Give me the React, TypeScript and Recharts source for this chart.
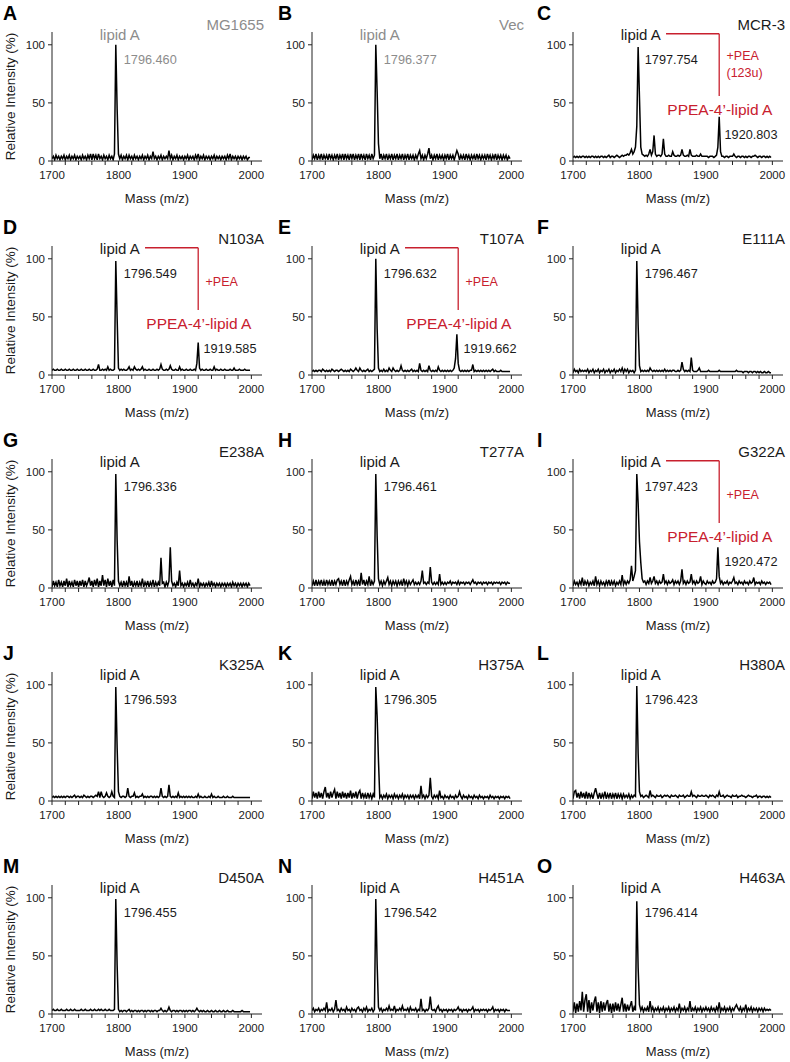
import React from 'react';
import { LineChart, Line, XAxis, YAxis, ReferenceDot, ReferenceLine } from 'recharts';

// m/z grid of the spectra (2 u steps)
const masses = [
  1700, 1702, 1704, 1706, 1708, 1710, 1712, 1714, 1716, 1718,
  1720, 1722, 1724, 1726, 1728, 1730, 1732, 1734, 1736, 1738,
  1740, 1742, 1744, 1746, 1748, 1750, 1752, 1754, 1756, 1758,
  1760, 1762, 1764, 1766, 1768, 1770, 1772, 1774, 1776, 1778,
  1780, 1782, 1784, 1786, 1788, 1790, 1792, 1794, 1796, 1798,
  1800, 1802, 1804, 1806, 1808, 1810, 1812, 1814, 1816, 1818,
  1820, 1822, 1824, 1826, 1828, 1830, 1832, 1834, 1836, 1838,
  1840, 1842, 1844, 1846, 1848, 1850, 1852, 1854, 1856, 1858,
  1860, 1862, 1864, 1866, 1868, 1870, 1872, 1874, 1876, 1878,
  1880, 1882, 1884, 1886, 1888, 1890, 1892, 1894, 1896, 1898,
  1900, 1902, 1904, 1906, 1908, 1910, 1912, 1914, 1916, 1918,
  1920, 1922, 1924, 1926, 1928, 1930, 1932, 1934, 1936, 1938,
  1940, 1942, 1944, 1946, 1948, 1950, 1952, 1954, 1956, 1958,
  1960, 1962, 1964, 1966, 1968, 1970, 1972, 1974, 1976, 1978,
  1980, 1982, 1984, 1986, 1988, 1990, 1992, 1994, 1996, 1998,
];

const massTicks = [1700, 1720, 1740, 1760, 1780, 1800, 1820, 1840, 1860, 1880, 1900, 1920, 1940, 1960, 1980, 2000];
const intensityTicks = [0, 50, 100];

const panelLetters = ['A', 'B', 'C', 'D', 'E', 'F', 'G', 'H', 'I', 'J', 'K', 'L', 'M', 'N', 'O'];
const sampleNames = ['MG1655', 'Vec', 'MCR-3', 'N103A', 'T107A', 'E111A', 'E238A', 'T277A', 'G322A', 'K325A', 'H375A', 'H380A', 'D450A', 'H451A', 'H463A'];
const lipidAMasses = ['1796.460', '1796.377', '1797.754', '1796.549', '1796.632', '1796.467', '1796.336', '1796.461', '1797.423', '1796.593', '1796.305', '1796.423', '1796.455', '1796.542', '1796.414'];
const peaMasses = [null, null, '1920.803', '1919.585', '1919.662', null, null, null, '1920.472', null, null, null, null, null, null];
const peaNotes = ['', '', '(123u)', '', '', '', '', '', '', '', '', '', '', '', ''];
const grayPanels = ['A', 'B'];

// relative intensity (%), one value per mass
const intA = [
  2, 4, 1, 5, 2, 4, 1, 4, 2, 5,
  1, 4, 2, 5, 1, 4, 2, 5, 1, 4,
  2, 4, 1, 5, 2, 4, 1, 5, 2, 6,
  1, 6, 2, 5, 1, 6, 2, 4, 1, 5,
  2, 4, 1, 5, 2, 4, 1, 6, 100, 45,
  6, 2, 5, 1, 4, 2, 5, 1, 5, 2,
  4, 1, 5, 2, 4, 1, 4, 2, 5, 1,
  4, 2, 5, 1, 4, 2, 8, 2, 4, 1,
  4, 2, 5, 1, 4, 2, 4, 2, 9, 2,
  5, 1, 4, 2, 5, 1, 4, 2, 4, 1,
  4, 2, 5, 1, 4, 2, 4, 1, 5, 2,
  6, 1, 4, 2, 5, 1, 4, 2, 4, 1,
  4, 2, 5, 1, 4, 2, 4, 1, 4, 2,
  4, 1, 5, 2, 6, 1, 4, 2, 4, 1,
  4, 2, 4, 1, 4, 2, 4, 1, 3, 3,
];
const intB = [
  1, 5, 2, 6, 1, 5, 2, 6, 1, 5,
  2, 5, 1, 6, 2, 5, 1, 5, 2, 6,
  1, 5, 2, 6, 1, 6, 2, 5, 1, 6,
  2, 6, 1, 5, 2, 6, 1, 6, 2, 5,
  1, 6, 2, 5, 1, 6, 2, 5, 100, 60,
  15, 2, 6, 1, 5, 2, 6, 1, 5, 2,
  6, 1, 5, 2, 6, 1, 5, 2, 6, 1,
  5, 2, 6, 1, 5, 2, 5, 1, 5, 2,
  6, 9, 2, 5, 1, 5, 2, 6, 11, 2,
  5, 1, 5, 2, 6, 1, 5, 2, 5, 1,
  5, 2, 6, 1, 5, 2, 5, 1, 5, 9,
  6, 1, 5, 2, 5, 1, 6, 2, 5, 1,
  5, 2, 5, 1, 6, 2, 5, 1, 5, 2,
  5, 1, 6, 2, 5, 1, 5, 2, 6, 1,
  5, 2, 5, 1, 5, 2, 5, 1, 4, 2,
];
const intC = [
  3, 4, 3, 4, 3, 4, 3, 4, 4, 3,
  4, 3, 4, 3, 4, 4, 3, 4, 3, 4,
  3, 4, 4, 3, 4, 3, 4, 5, 3, 4,
  4, 3, 4, 5, 4, 3, 4, 5, 4, 5,
  5, 6, 5, 7, 10, 6, 8, 12, 30, 98,
  55, 12, 6, 5, 4, 5, 4, 6, 10, 5,
  8, 22, 6, 4, 5, 5, 4, 6, 19, 6,
  4, 4, 5, 4, 4, 8, 5, 4, 4, 5,
  4, 5, 10, 5, 4, 4, 5, 4, 10, 5,
  4, 4, 4, 5, 4, 4, 6, 4, 4, 4,
  4, 4, 3, 4, 4, 4, 3, 4, 5, 12,
  38, 8, 4, 4, 3, 4, 4, 3, 4, 4,
  4, 6, 4, 3, 4, 4, 3, 4, 4, 3,
  4, 3, 4, 4, 3, 4, 4, 5, 4, 3,
  4, 4, 3, 4, 4, 3, 4, 3, 4, 3,
];
const intD = [
  4, 5, 4, 4, 5, 4, 4, 5, 4, 4,
  5, 4, 4, 5, 4, 4, 5, 4, 4, 5,
  4, 4, 5, 4, 4, 5, 4, 4, 5, 4,
  4, 5, 4, 4, 5, 9, 4, 4, 5, 4,
  5, 4, 7, 4, 5, 4, 4, 5, 98, 49,
  6, 4, 5, 4, 5, 4, 4, 5, 7, 4,
  5, 4, 7, 5, 4, 5, 4, 5, 7, 4,
  5, 4, 4, 5, 4, 4, 5, 4, 4, 5,
  4, 5, 9, 5, 4, 4, 5, 4, 5, 8,
  5, 4, 4, 5, 4, 4, 7, 4, 5, 4,
  4, 5, 4, 4, 5, 4, 4, 5, 4, 10,
  28, 6, 4, 5, 4, 4, 5, 4, 4, 5,
  4, 4, 7, 4, 5, 4, 4, 5, 4, 4,
  5, 4, 4, 4, 5, 4, 4, 6, 4, 4,
  4, 5, 4, 4, 4, 5, 4, 4, 4, 4,
];
const intE = [
  3, 4, 3, 4, 3, 4, 4, 3, 5, 4,
  3, 4, 3, 4, 3, 5, 4, 3, 4, 4,
  3, 4, 5, 4, 3, 4, 3, 4, 3, 5,
  4, 3, 4, 6, 4, 3, 6, 4, 3, 4,
  3, 4, 5, 3, 4, 3, 4, 5, 100, 40,
  6, 3, 4, 3, 5, 3, 4, 3, 6, 4,
  3, 6, 4, 3, 4, 3, 4, 8, 4, 3,
  4, 3, 4, 3, 4, 5, 3, 4, 3, 4,
  3, 10, 4, 3, 4, 3, 4, 3, 8, 4,
  3, 4, 3, 4, 3, 7, 4, 3, 4, 3,
  4, 3, 4, 3, 4, 3, 4, 6, 14, 35,
  10, 4, 3, 4, 3, 4, 3, 4, 3, 4,
  4, 9, 3, 4, 3, 4, 3, 4, 3, 4,
  3, 4, 3, 4, 3, 4, 5, 3, 4, 3,
  3, 3, 4, 3, 3, 3, 3, 3, 3, 3,
];
const intF = [
  2, 5, 3, 4, 2, 5, 3, 4, 3, 4,
  3, 5, 2, 4, 3, 5, 2, 4, 3, 5,
  2, 4, 3, 5, 2, 4, 3, 5, 2, 4,
  3, 5, 2, 4, 3, 5, 3, 6, 2, 5,
  3, 5, 2, 4, 3, 4, 2, 4, 98, 43,
  8, 3, 4, 3, 4, 3, 4, 3, 6, 4,
  3, 4, 3, 4, 3, 4, 3, 4, 3, 5,
  3, 4, 3, 4, 3, 4, 4, 3, 3, 4,
  3, 4, 11, 5, 3, 4, 3, 4, 3, 15,
  4, 3, 3, 3, 4, 6, 3, 3, 3, 3,
  3, 3, 4, 3, 3, 3, 3, 3, 3, 3,
  4, 3, 3, 3, 3, 3, 3, 3, 3, 3,
  3, 3, 3, 4, 3, 3, 3, 3, 2, 3,
  3, 3, 2, 3, 3, 2, 3, 3, 2, 3,
  2, 3, 2, 2, 3, 2, 2, 3, 2, 2,
];
const intG = [
  1, 6, 2, 5, 1, 7, 2, 5, 1, 6,
  2, 8, 1, 6, 2, 5, 1, 7, 2, 6,
  1, 6, 2, 7, 1, 6, 2, 5, 9, 2,
  6, 1, 7, 2, 8, 1, 6, 2, 11, 2,
  7, 1, 8, 2, 6, 1, 7, 2, 98, 41,
  6, 2, 5, 1, 6, 2, 5, 1, 10, 2,
  6, 1, 5, 2, 6, 1, 5, 2, 8, 1,
  5, 2, 6, 1, 5, 2, 7, 1, 5, 2,
  5, 2, 26, 4, 5, 1, 5, 2, 6, 35,
  6, 2, 4, 1, 5, 2, 15, 2, 4, 1,
  4, 2, 5, 1, 7, 2, 4, 1, 4, 2,
  8, 1, 4, 2, 4, 1, 4, 2, 5, 1,
  6, 2, 4, 1, 4, 2, 4, 1, 4, 2,
  4, 1, 4, 2, 4, 1, 5, 2, 4, 1,
  4, 2, 4, 1, 4, 2, 4, 1, 4, 2,
];
const intH = [
  2, 6, 2, 7, 2, 6, 3, 7, 2, 6,
  2, 7, 3, 6, 2, 7, 2, 6, 3, 7,
  8, 3, 6, 2, 7, 2, 6, 3, 7, 10,
  3, 6, 2, 7, 3, 6, 2, 13, 3, 7,
  2, 6, 3, 10, 2, 6, 3, 6, 98, 45,
  8, 3, 6, 2, 6, 3, 6, 9, 3, 6,
  2, 6, 3, 6, 2, 6, 3, 6, 2, 8,
  3, 6, 2, 6, 3, 5, 7, 3, 5, 3,
  5, 3, 6, 15, 4, 5, 3, 5, 4, 18,
  5, 3, 5, 3, 5, 3, 12, 3, 5, 3,
  5, 3, 5, 4, 6, 3, 5, 4, 5, 3,
  6, 3, 5, 4, 5, 3, 5, 4, 5, 3,
  5, 7, 4, 5, 3, 5, 4, 5, 3, 5,
  4, 5, 3, 5, 4, 5, 3, 5, 4, 5,
  4, 5, 3, 5, 4, 5, 3, 5, 4, 4,
];
const intI = [
  2, 6, 3, 5, 2, 6, 3, 9, 2, 6,
  3, 6, 2, 5, 3, 6, 2, 10, 3, 6,
  2, 6, 3, 5, 2, 6, 3, 7, 2, 6,
  3, 6, 2, 5, 3, 6, 3, 11, 3, 6,
  3, 6, 4, 7, 19, 6, 10, 15, 98, 73,
  40, 22, 8, 5, 6, 3, 6, 4, 9, 4,
  6, 10, 4, 6, 3, 6, 4, 5, 12, 4,
  6, 3, 6, 4, 5, 7, 3, 6, 4, 6,
  3, 6, 16, 4, 6, 3, 6, 4, 5, 12,
  4, 6, 3, 6, 4, 5, 10, 3, 6, 4,
  3, 6, 4, 5, 3, 6, 4, 5, 8, 35,
  10, 4, 6, 3, 5, 4, 6, 3, 5, 4,
  6, 9, 4, 5, 3, 6, 4, 5, 3, 6,
  4, 5, 3, 6, 4, 5, 9, 3, 5, 4,
  5, 3, 6, 4, 5, 3, 5, 4, 5, 3,
];
const intJ = [
  3, 4, 3, 4, 3, 4, 3, 4, 3, 4,
  3, 4, 4, 3, 4, 3, 4, 5, 3, 4,
  4, 3, 4, 3, 5, 4, 3, 4, 3, 4,
  4, 3, 4, 5, 4, 8, 3, 8, 4, 3,
  4, 7, 4, 3, 4, 8, 4, 3, 98, 46,
  8, 4, 3, 4, 4, 3, 4, 11, 4, 3,
  4, 4, 7, 3, 4, 3, 4, 4, 6, 3,
  4, 3, 4, 3, 4, 4, 3, 4, 3, 4,
  3, 4, 11, 4, 3, 4, 3, 4, 14, 4,
  3, 4, 3, 4, 3, 7, 3, 4, 3, 4,
  3, 4, 3, 4, 3, 4, 3, 3, 4, 3,
  6, 3, 4, 3, 3, 4, 3, 3, 4, 3,
  6, 3, 4, 3, 3, 4, 3, 3, 3, 4,
  3, 3, 4, 3, 3, 3, 4, 3, 3, 3,
  3, 3, 3, 3, 3, 3, 3, 3, 3, 3,
];
const intK = [
  2, 8, 3, 7, 2, 8, 3, 7, 2, 8,
  12, 3, 7, 2, 8, 3, 7, 10, 2, 8,
  3, 7, 2, 8, 3, 7, 2, 7, 3, 9,
  2, 7, 3, 8, 2, 7, 9, 2, 7, 3,
  6, 2, 7, 3, 6, 2, 6, 3, 98, 73,
  35, 3, 5, 2, 5, 3, 6, 2, 5, 3,
  5, 2, 6, 3, 5, 2, 5, 3, 6, 2,
  5, 3, 5, 2, 5, 3, 5, 2, 5, 3,
  5, 2, 13, 3, 5, 2, 5, 3, 5, 20,
  4, 2, 5, 3, 5, 2, 9, 3, 4, 2,
  5, 3, 4, 2, 5, 3, 4, 2, 5, 3,
  4, 8, 4, 2, 5, 3, 4, 2, 5, 3,
  4, 2, 5, 3, 4, 2, 5, 3, 4, 2,
  4, 3, 4, 2, 5, 3, 4, 2, 4, 3,
  4, 2, 4, 3, 4, 2, 4, 3, 4, 2,
];
const intL = [
  2, 8, 9, 3, 7, 2, 8, 3, 7, 2,
  8, 2, 7, 3, 6, 2, 7, 11, 6, 2,
  7, 2, 6, 3, 8, 2, 6, 3, 7, 2,
  6, 3, 7, 2, 6, 3, 6, 2, 6, 3,
  5, 3, 6, 2, 5, 3, 5, 4, 99, 41,
  8, 4, 5, 3, 4, 5, 4, 3, 9, 4,
  5, 4, 3, 5, 4, 4, 5, 3, 4, 5,
  4, 5, 4, 3, 5, 4, 4, 5, 4, 3,
  5, 4, 4, 5, 3, 4, 5, 4, 4, 8,
  4, 5, 4, 3, 5, 4, 4, 5, 4, 4,
  5, 4, 3, 5, 4, 5, 4, 3, 5, 4,
  8, 4, 4, 5, 3, 4, 5, 4, 4, 3,
  5, 4, 4, 5, 3, 4, 4, 5, 4, 4,
  3, 4, 5, 4, 4, 3, 4, 4, 5, 3,
  4, 4, 3, 4, 4, 3, 4, 3, 4, 3,
];
const intM = [
  3, 4, 3, 3, 4, 3, 3, 4, 3, 3,
  3, 4, 3, 3, 4, 3, 3, 4, 3, 3,
  3, 3, 4, 3, 3, 4, 3, 3, 3, 4,
  3, 3, 4, 3, 3, 4, 3, 4, 3, 3,
  4, 3, 3, 4, 3, 3, 3, 4, 99, 42,
  4, 2, 3, 2, 3, 3, 2, 3, 4, 2,
  3, 2, 3, 3, 2, 3, 2, 3, 3, 2,
  3, 2, 3, 3, 2, 3, 2, 3, 3, 2,
  3, 3, 5, 3, 2, 3, 2, 3, 6, 3,
  2, 3, 3, 2, 3, 2, 3, 3, 2, 3,
  2, 3, 2, 3, 3, 2, 3, 2, 3, 5,
  3, 2, 3, 2, 3, 2, 2, 3, 2, 2,
  3, 2, 2, 3, 2, 2, 3, 2, 2, 3,
  2, 2, 3, 2, 2, 2, 3, 2, 2, 2,
  2, 2, 2, 3, 2, 2, 2, 2, 2, 2,
];
const intN = [
  3, 5, 2, 4, 3, 5, 2, 4, 3, 5,
  3, 10, 2, 4, 3, 5, 2, 4, 12, 3,
  4, 2, 5, 3, 4, 2, 6, 3, 4, 2,
  5, 3, 4, 2, 5, 6, 3, 4, 2, 5,
  3, 6, 2, 4, 3, 5, 2, 4, 99, 43,
  6, 3, 5, 2, 4, 3, 5, 3, 7, 3,
  4, 3, 7, 2, 4, 3, 5, 3, 7, 3,
  4, 3, 5, 2, 6, 3, 4, 3, 5, 2,
  4, 3, 13, 3, 4, 2, 4, 3, 5, 15,
  4, 3, 4, 2, 5, 7, 3, 4, 2, 4,
  3, 4, 2, 4, 3, 4, 2, 4, 3, 4,
  6, 3, 4, 2, 4, 3, 4, 2, 4, 3,
  4, 6, 2, 4, 3, 4, 2, 4, 3, 4,
  3, 4, 2, 4, 3, 4, 6, 2, 4, 3,
  4, 2, 4, 3, 4, 2, 4, 3, 3, 3,
];
const intO = [
  2, 10, 1, 9, 2, 11, 3, 19, 2, 12,
  17, 2, 12, 1, 10, 3, 11, 15, 2, 10,
  1, 11, 2, 10, 3, 9, 12, 2, 9, 1,
  9, 2, 10, 3, 9, 2, 8, 14, 2, 9,
  2, 8, 3, 7, 11, 2, 6, 3, 97, 40,
  8, 3, 6, 2, 5, 3, 6, 2, 11, 3,
  6, 2, 5, 3, 6, 2, 5, 3, 6, 2,
  5, 3, 6, 2, 5, 3, 6, 2, 5, 3,
  9, 2, 5, 3, 6, 2, 5, 3, 11, 2,
  5, 3, 6, 2, 5, 3, 6, 2, 5, 3,
  6, 3, 5, 2, 6, 3, 5, 2, 6, 3,
  10, 2, 5, 3, 6, 2, 5, 3, 6, 2,
  5, 3, 6, 8, 5, 3, 6, 2, 5, 3,
  8, 2, 5, 3, 6, 2, 5, 3, 5, 2,
  5, 3, 5, 2, 5, 3, 4, 3, 4, 3,
];

const spectra = [intA, intB, intC, intD, intE, intF, intG, intH, intI, intJ, intK, intL, intM, intN, intO];

const FONT = '"Liberation Sans", Arial, Helvetica, sans-serif';
const INK = '#1a1a1a';
const GRAY = '#8c8c8c';
const RED = '#c8202e';
const AXIS = '#222';

// layout (page pixels)
const PLOT_LEFT = [52, 312, 573];
const LETTER_X = [3, 278, 537];
const ROW_TOP = [0, 214, 427, 640, 853];
const Y_AXIS_W = 45;
const PLOT_W = 210;
const CHART_W = Y_AXIS_W + PLOT_W + 6;
const CHART_H = 200;

const textShape = (label: string, anchor: 'start' | 'middle' | 'end', size: number, color: string) =>
  (props: any) => (
    <text x={props.cx} y={props.cy} dy="0.35em" textAnchor={anchor} fontSize={size} fill={color} fontFamily={FONT}>
      {label}
    </text>
  );

const Panel = ({ index }: { index: number }) => {
  const col = index % 3;
  const row = Math.floor(index / 3);
  const letter = panelLetters[index];
  const ink = grayPanels.includes(letter) ? GRAY : INK;
  const data = masses.map((m, i) => ({ mass: m, intensity: spectra[index][i] }));
  const pea = peaMasses[index];
  const note = peaNotes[index];

  return (
    <div style={{ position: 'absolute', left: PLOT_LEFT[col] - Y_AXIS_W, top: ROW_TOP[row], width: CHART_W, height: CHART_H }}>
      <LineChart width={CHART_W} height={CHART_H} data={data} margin={{ top: 32, right: 6, bottom: 0, left: 0 }}>
        <XAxis
          type="number"
          dataKey="mass"
          domain={[1700, 2016]}
          ticks={massTicks}
          interval={0}
          allowDataOverflow
          height={39}
          tickSize={4}
          tickMargin={6}
          stroke={AXIS}
          tickLine={{ stroke: AXIS }}
          tick={{ fill: INK, fontSize: 11.5, fontFamily: FONT }}
          tickFormatter={(v: number) => (v % 100 === 0 ? String(v) : '')}
        />
        <YAxis
          type="number"
          domain={[0, 111]}
          ticks={intensityTicks}
          allowDataOverflow
          width={Y_AXIS_W}
          tickSize={4}
          tickMargin={3}
          stroke={AXIS}
          tickLine={{ stroke: AXIS }}
          tick={{ fill: INK, fontSize: 11.5, fontFamily: FONT }}
        />
        <Line type="linear" dataKey="intensity" stroke="#000" strokeWidth={1.5} dot={false} isAnimationActive={false} />

        <ReferenceDot x={1802} y={108.5} r={1} shape={textShape('lipid A', 'middle', 15, ink)} />
        <ReferenceDot x={1808} y={87} r={1} shape={textShape(lipidAMasses[index], 'start', 12.7, ink)} />

        {pea && (
          <ReferenceLine segment={[{ x: 1840, y: 109.5 }, { x: 1920, y: 109.5 }]} stroke={RED} strokeWidth={1.3} />
        )}
        {pea && (
          <ReferenceLine segment={[{ x: 1920, y: 109.5 }, { x: 1920, y: 56 }]} stroke={RED} strokeWidth={1.3} />
        )}
        {pea && (
          <ReferenceDot x={1931} y={note ? 90.5 : 80} r={1} shape={textShape('+PEA', 'start', 12.5, RED)} />
        )}
        {pea && note && (
          <ReferenceDot x={1931} y={76} r={1} shape={textShape(note, 'start', 12.5, RED)} />
        )}
        {pea && (
          <ReferenceDot x={1921} y={44} r={1} shape={textShape('PPEA-4’-lipid A', 'middle', 15.5, RED)} />
        )}
        {pea && (
          <ReferenceDot x={1928} y={23} r={1} shape={textShape(pea, 'start', 12.7, INK)} />
        )}
      </LineChart>
    </div>
  );
};

const Labels = () => (
  <svg width={790} height={1062} style={{ position: 'absolute', left: 0, top: 0, pointerEvents: 'none' }} fontFamily={FONT}>
    {panelLetters.map((letter, index) => {
      const col = index % 3;
      const row = Math.floor(index / 3);
      const top = ROW_TOP[row];
      const x0 = PLOT_LEFT[col];
      const ink = grayPanels.includes(letter) ? GRAY : INK;
      return (
        <g key={letter}>
          <text x={LETTER_X[col]} y={top + 20} fontSize={19.5} fontWeight="bold" fill="#000">{letter}</text>
          <text x={x0 + 212} y={top + 30} fontSize={15} textAnchor="end" fill={ink}>{sampleNames[index]}</text>
          <text x={x0 + 105} y={top + 202.5} fontSize={13} textAnchor="middle" fill={INK}>Mass (m/z)</text>
          {col === 0 && (
            <text transform={`translate(14.5, ${top + 96.5}) rotate(-90)`} fontSize={13.5} textAnchor="middle" fill={INK}>
              Relative Intensity (%)
            </text>
          )}
        </g>
      );
    })}
  </svg>
);

export default function App() {
  return (
    <div style={{ position: 'absolute', left: 0, top: 0, width: 790, height: 1062, background: '#fff', overflow: 'hidden', fontFamily: FONT }}>
      {panelLetters.map((letter, index) => (
        <Panel key={letter} index={index} />
      ))}
      <Labels />
    </div>
  );
}
